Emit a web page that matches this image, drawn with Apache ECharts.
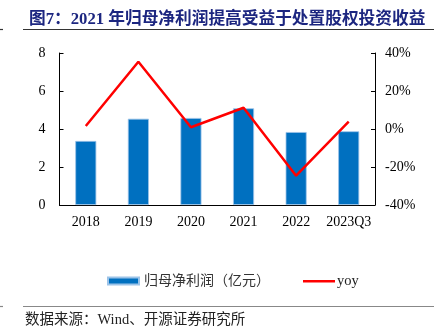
<!DOCTYPE html>
<html>
<head>
<meta charset="utf-8">
<script src="https://cdn.jsdelivr.net/npm/echarts@6/dist/echarts.min.js"></script>
<style>html,body{margin:0;padding:0;background:#fff}#c{width:437px;height:329px}</style>
</head>
<body>
<div id="c"></div>
<script>
const categories = ['2018', '2019', '2020', '2021', '2022', '2023Q3'];
const profit = [3.37, 4.54, 4.58, 5.09, 3.84, 3.88];
const yoy = [1.6, 35.4, 0.9, 11.2, -24.6, 3.9];
const leftTicks = {min: 0, max: 8, interval: 2};
const rightTicks = {min: -40, max: 40, interval: 20};

const serif = '"Liberation Serif", "Times New Roman", serif';
const mixed = '"Liberation Serif", "Noto Sans CJK SC", serif';
const chart = echarts.init(document.getElementById('c'), null, {renderer: 'canvas'});
chart.setOption({
  animation: false,
  backgroundColor: '#fff',
  title: {
    text: '图7：2021 年归母净利润提高受益于处置股权投资收益',
    left: 24, top: 6,
    textStyle: {fontFamily: mixed, fontSize: 16.7, fontWeight: 'bold', color: '#1c2680'}
  },
  graphic: [
    {type: 'line', shape: {x1: 23, y1: 29.5, x2: 434, y2: 29.5}, style: {stroke: '#333', lineWidth: 1.2}},
    {type: 'line', shape: {x1: 0, y1: 29.5, x2: 3, y2: 29.5}, style: {stroke: '#333', lineWidth: 1.2}},
    {type: 'line', shape: {x1: 23, y1: 306.5, x2: 434, y2: 306.5}, style: {stroke: '#888', lineWidth: 1.2}},
    {type: 'line', shape: {x1: 0, y1: 306.5, x2: 3, y2: 306.5}, style: {stroke: '#888', lineWidth: 1.2}},
    {type: 'text', left: 25, top: 312.5, style: {text: '数据来源：Wind、开源证券研究所', font: '14.5px "Liberation Serif", "Noto Sans CJK SC", serif', fill: '#222'}}
  ],
  legend: [
    {top: 269, left: 102, itemWidth: 31, itemHeight: 7, icon: 'rect',
     textStyle: {fontFamily: mixed, fontSize: 14, color: '#333'},
     data: ['归母净利润（亿元）']},
    {top: 269, left: 298, itemWidth: 32, itemHeight: 2.5, icon: 'rect',
     textStyle: {fontFamily: mixed, fontSize: 14.5, color: '#222', padding: [0, 0, 0, -3]},
     data: ['yoy']}
  ],
  grid: {left: 59.5, right: 62, top: 53, bottom: 124},
  xAxis: {
    type: 'category', data: categories,
    axisLine: {lineStyle: {color: '#000', width: 1}},
    axisTick: {inside: true, length: 4, lineStyle: {color: '#000'}},
    axisLabel: {fontFamily: serif, fontSize: 14, color: '#000', margin: 10, interval: 0}
  },
  yAxis: [
    {type: 'value', min: leftTicks.min, max: leftTicks.max, interval: leftTicks.interval,
     axisLine: {show: true, lineStyle: {color: '#000'}},
     axisTick: {show: true, inside: true, length: 4, lineStyle: {color: '#000'}},
     splitLine: {show: false},
     axisLabel: {fontFamily: serif, fontSize: 14, color: '#000', margin: 14}},
    {type: 'value', min: rightTicks.min, max: rightTicks.max, interval: rightTicks.interval,
     position: 'right',
     axisLine: {show: true, lineStyle: {color: '#000'}},
     axisTick: {show: true, inside: true, length: 4, lineStyle: {color: '#000'}},
     splitLine: {show: false},
     axisLabel: {fontFamily: serif, fontSize: 14, color: '#000', margin: 10, formatter: '{value}%'}}
  ],
  series: [
    {name: '归母净利润（亿元）', type: 'bar', data: profit, barWidth: '40%',
     itemStyle: {color: '#0070c0', borderColor: '#9cc3e8', borderWidth: 0.8}},
    {name: 'yoy', type: 'line', yAxisIndex: 1, data: yoy, symbol: 'none',
     lineStyle: {color: '#ff0000', width: 2.5}, itemStyle: {color: '#ff0000'}}
  ]
});
</script>
</body>
</html>
